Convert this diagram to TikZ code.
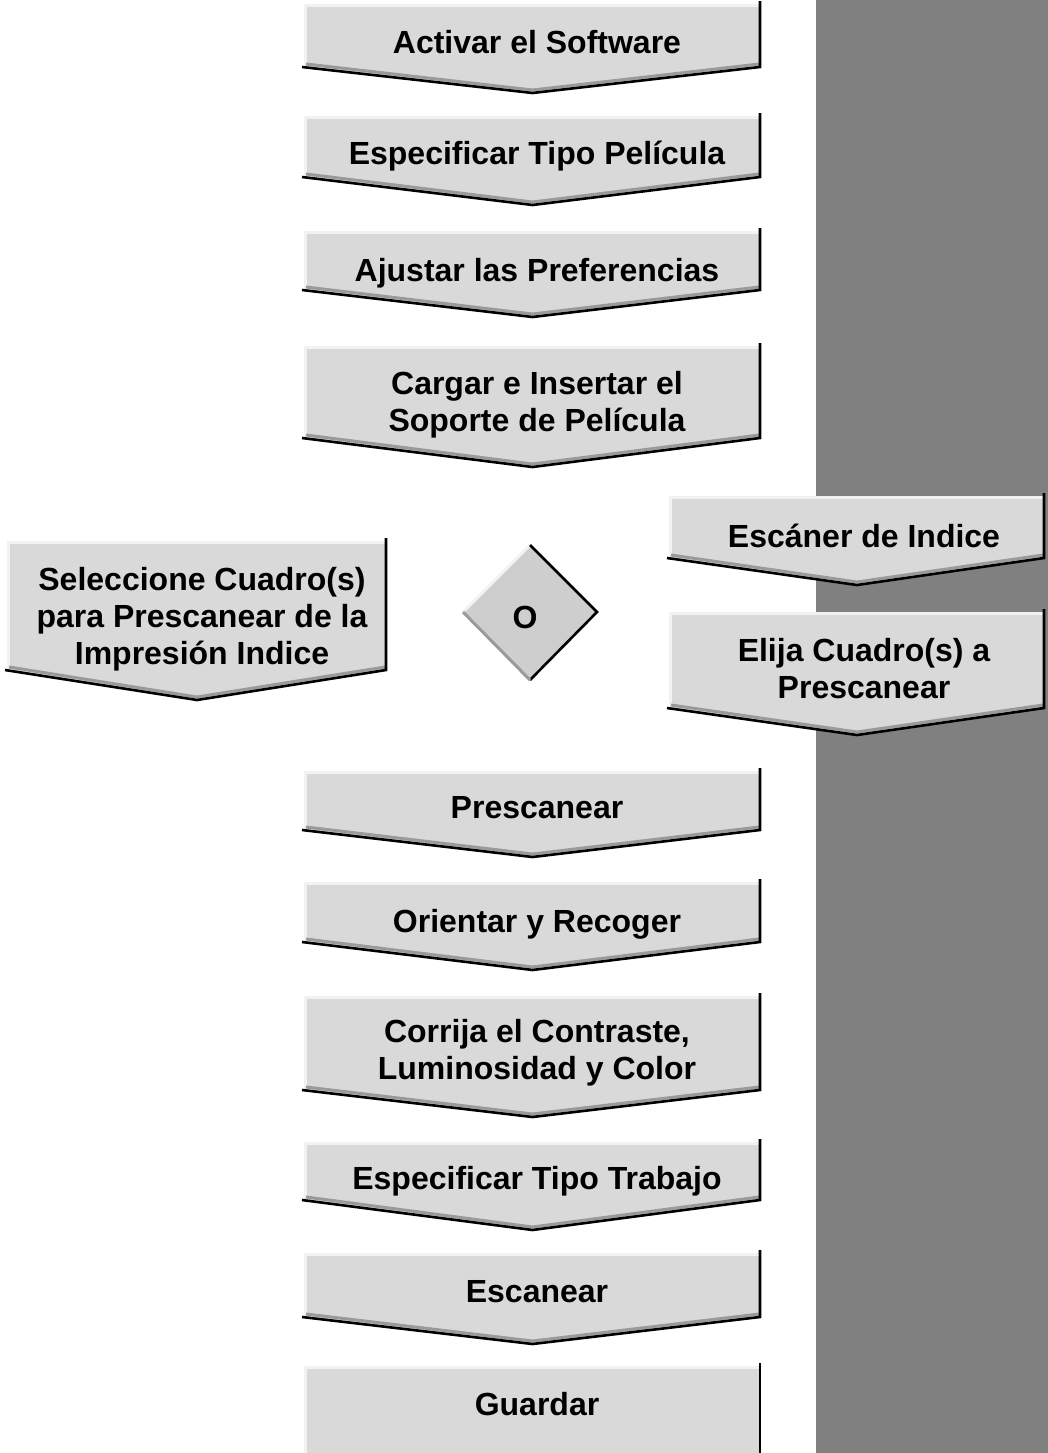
\documentclass[tikz,border=0pt]{standalone}
\usepackage{fontspec}
\setmainfont{Liberation Sans}

\definecolor{boxgray}{HTML}{D9D9D9}
\definecolor{bandgray}{HTML}{808080}
\definecolor{edgelight}{HTML}{F2F2F2}
\definecolor{edgemid}{HTML}{9A9A9A}

% arrow shaped step: left x, right x, top y, side y, tip y
\newcommand{\arrowbox}[5]{%
  \fill[boxgray] (#1,#3) -- (#2,#3) -- (#2,#4) -- ({(#1+#2)/2},#5) -- (#1,#4) -- cycle;
  \draw[edgelight, line width=1.5pt] (#1,#4) -- (#1,#3) -- (#2,#3);
  \draw[edgemid, line width=1.5pt] (#1+1,#4-3) -- ({(#1+#2)/2},#5-3) -- (#2-1,#4-3);
  \draw[black, line width=1.3pt] (#2,#3-4) -- (#2,#4) -- ({(#1+#2)/2},#5) -- (#1-3,#4);
}

\begin{document}
\begin{tikzpicture}[
  x=0.5pt, y=-0.5pt,
  steptext/.style={font=\fontsize{16}{18.5}\selectfont\bfseries, align=center,
                   anchor=base, inner sep=0pt}
]
\useasboundingbox (0,0) rectangle (1048,1453);
\fill[bandgray] (816,0) rectangle (1048,1453);

% main column
\arrowbox{305}{760}{5}{67}{93}
\arrowbox{305}{760}{117}{177}{205}
\arrowbox{305}{760}{232}{290}{317}
\arrowbox{305}{760}{347}{438}{467}
% the two ways
\arrowbox{8}{386}{542}{670}{700}
\arrowbox{670}{1044}{497}{558}{585}
\arrowbox{670}{1044}{613}{708}{735}
% rest of the column
\arrowbox{305}{760}{772}{830}{857}
\arrowbox{305}{760}{883}{942}{970}
\arrowbox{305}{760}{997}{1090}{1117}
\arrowbox{305}{760}{1143}{1200}{1230}
\arrowbox{305}{760}{1254}{1317}{1344}

% last step has no point
\fill[boxgray] (305,1367) rectangle (760,1453);
\draw[edgelight, line width=1.5pt] (305,1453) -- (305,1367) -- (760,1367);
\draw[black, line width=1.3pt] (760,1363) -- (760,1453);

% or diamond
\fill[boxgray!95!black] (463,612) -- (530,545) -- (597,612) -- (530,680) -- cycle;
\draw[edgelight, line width=1.5pt] (463,612) -- (530,545);
\draw[black, line width=1.3pt] (530,545) -- (597,612) -- (530,680);
\draw[edgemid, line width=1.5pt] (530,680) -- (463,612);

% multi-line texts sit on their last baseline
\node[steptext] (activar) at (537,53) {Activar el Software};
\node[steptext] (pelicula) at (537,164) {Especificar Tipo Película};
\node[steptext] (prefs) at (537,281) {Ajustar las Preferencias};
\node[steptext] (soporte) at (537,431) {Cargar e Insertar el\\Soporte de Película};
\node[steptext] (selec) at (202,664) {Seleccione Cuadro(s)\\para Prescanear de la\\Impresión Indice};
\node[steptext] (o) at (525,628) {O};
\node[steptext] (indice) at (864,547) {Escáner de Indice};
\node[steptext] (elija) at (864,698) {Elija Cuadro(s) a\\Prescanear};
\node[steptext] (prescan) at (537,818) {Prescanear};
\node[steptext] (orientar) at (537,932) {Orientar y Recoger};
\node[steptext] (corrija) at (537,1079) {Corrija el Contraste,\\Luminosidad y Color};
\node[steptext] (trabajo) at (537,1189) {Especificar Tipo Trabajo};
\node[steptext] (escanear) at (537,1302) {Escanear};
\node[steptext] (guardar) at (537,1415) {Guardar};
\end{tikzpicture}
\end{document}
